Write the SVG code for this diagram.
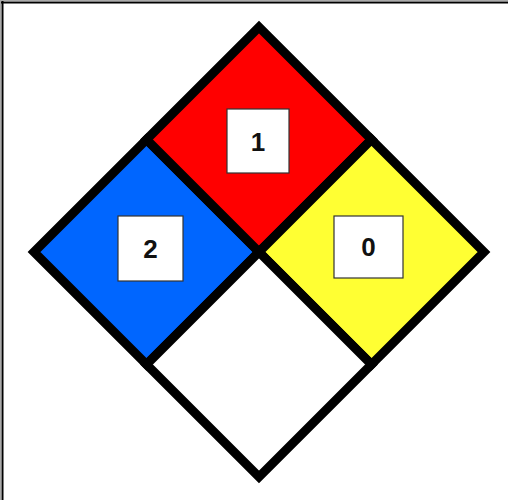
<svg xmlns="http://www.w3.org/2000/svg" width="508" height="500" viewBox="0 0 508 500">
<style>
.q{stroke:#000;stroke-width:9;stroke-linejoin:miter}
.box{fill:#fff;stroke:#333;stroke-width:1.2}
.num{font-family:"Liberation Sans",Arial,sans-serif;font-weight:bold;font-size:26px;fill:#111;text-anchor:middle}
</style>
<rect x="0" y="0" width="508" height="500" fill="#fff"/>
<line x1="0" y1="0.5" x2="508" y2="0.5" stroke="#aaa" stroke-width="1"/>
<line x1="0.5" y1="0" x2="0.5" y2="500" stroke="#aaa" stroke-width="1"/>
<line x1="1" y1="2.5" x2="508" y2="2.5" stroke="#000" stroke-width="2"/>
<line x1="2.5" y1="1" x2="2.5" y2="500" stroke="#000" stroke-width="2"/>
<g id="diamond">
<g id="health"><polygon class="q" points="34,252 146.5,139.5 259,252 146.5,364.5" fill="#0066ff"/></g>
<g id="flammability"><polygon class="q" points="146.5,139.5 259,27 371.5,139.5 259,252" fill="#ff0000"/></g>
<g id="instability"><polygon class="q" points="259,252 371.5,139.5 484,252 371.5,364.5" fill="#ffff33"/></g>
<g id="special"><polygon class="q" points="146.5,364.5 259,252 371.5,364.5 259,477" fill="#fff"/></g>
</g>
<g id="label-health"><rect class="box" x="118" y="216" width="65" height="65"/><text class="num" x="150.5" y="258">2</text></g>
<g id="label-flammability"><rect class="box" x="227" y="109" width="62" height="64"/><text class="num" x="258" y="151">1</text></g>
<g id="label-instability"><rect class="box" x="334" y="216" width="69" height="62"/><text class="num" x="368.5" y="256">0</text></g>
</svg>
